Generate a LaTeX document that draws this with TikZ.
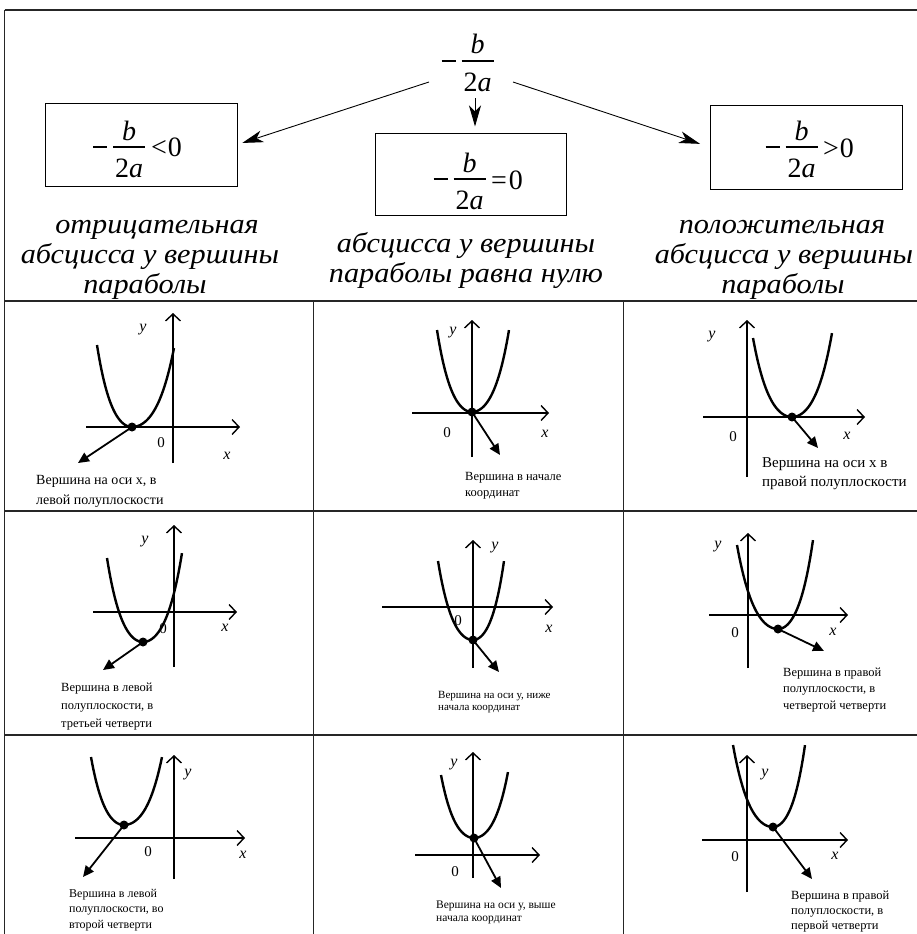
\documentclass[tikz,border=0pt]{standalone}
\usepackage{fontspec}
\setmainfont{Liberation Serif}
\newfontfamily\capfont[FakeStretch=1.08]{Liberation Serif}
\usetikzlibrary{arrows.meta}
\tikzset{
  gridline/.style={line width=1.3pt, draw=black!85},
  fbox/.style={draw, line width=1pt, inner sep=0},
  mth/.style={inner sep=0, font=\fontsize{28}{30}\selectfont},
  barline/.style={line width=1.1pt},
  toparrow/.style={line width=0.9pt, -{Stealth[length=21pt,width=12pt,inset=6pt]}},
  axis/.style={line width=1.4pt, -{Straight Barb[length=7pt,width=15pt]}},
  curve/.style={line width=2.4pt},
  varrow/.style={line width=1.8pt, -{Triangle[length=11pt,width=10pt]}},
  dot/.style={circle, fill, inner sep=0, minimum size=9pt},
  ax/.style={inner sep=0, font=\fontsize{16}{16}\selectfont\itshape},
  zero/.style={inner sep=0, font=\fontsize{15}{15}\selectfont},
  headcap/.style={inner sep=0, anchor=base, font=\capfont\fontsize{28}{30}\selectfont\itshape},
  note/.style args={#1/#2}{inner sep=0, anchor=base west, font=\fontsize{#1}{#2}\selectfont},
}
% fraction -b/2a with bar centre (#2,#3)
\newcommand\fracpart[3]{%
  \node[mth, anchor=base] (#1b) at (#2,#3-7) {\textit{b}};
  \node[mth, anchor=base] (#1d) at (#2,#3+30) {2\textit{a}};
  \draw[barline] (#2-16,#3) -- (#2+16,#3);
  \draw[barline] (#2-36,#3) -- (#2-22,#3);
}
% parabola: vertex (#1,#2), left top (#3,#4), right top (#5,#6)
\newcommand\parab[6]{%
  \draw[curve] plot[domain=-1:1, samples=61, smooth]
    ({#1+((\x<0)?(#1-#3):(#5-#1))*\x},
     {#2+((\x<0)?(#4-#2):(#6-#2))*(0.65*\x*\x+0.35*\x*\x*\x*\x)});
}
\begin{document}
\begin{tikzpicture}[x=1pt, y=-1pt]
\useasboundingbox (0,0) rectangle (917,934);

% frame and grid
\draw[gridline] (4.5,10) -- (917,10);
\draw[gridline, line width=1.6pt] (4.5,10) -- (4.5,934);
\draw[gridline] (4.5,301) -- (917,301);
\draw[gridline] (4.5,511) -- (917,511);
\draw[gridline] (4.5,735) -- (917,735);
\draw[gridline] (313.5,301) -- (313.5,934);
\draw[gridline] (623.5,301) -- (623.5,934);

% top formula
\fracpart{t}{477.5}{61}
\coordinate (sl) at (429,82);
\coordinate (sm) at (475,98);
\coordinate (sr) at (513,82);

% boxes
\node[fbox, minimum width=192pt, minimum height=83pt] (box1) at (141,144.5) {};
\node[fbox, minimum width=191pt, minimum height=82pt] (box2) at (470.5,174) {};
\node[fbox, minimum width=192pt, minimum height=84pt] (box3) at (806,147) {};

\fracpart{l}{129}{147}
\node[mth, anchor=base west] (lrel) at (151,156) {<\kern1pt 0};
\fracpart{m}{469.5}{179}
\node[mth, anchor=base west] (mrel) at (491,189) {=\kern2pt 0};
\fracpart{r}{801.5}{147}
\node[mth, anchor=base west] (rrel) at (823,157) {>\kern1pt 0};

\draw[toparrow, shorten >=5pt] (sl) -- (box1.east);
\draw[toparrow, shorten >=6pt] (sm) -- (sm |- box2.north);
\draw[toparrow, shorten >=10pt] (sr) -- (box3.west);

% captions
\node[headcap] (c11) at (157,233) {отрицательная};
\node[headcap] (c12) at (150,263) {абсцисса у вершины};
\node[headcap] (c13) at (145,293) {параболы};
\node[headcap] (c21) at (466,252) {абсцисса у вершины};
\node[headcap] (c22) at (466,282) {параболы равна нулю};
\node[headcap] (c31) at (782,233) {положительная};
\node[headcap] (c32) at (784,263) {абсцисса у вершины};
\node[headcap] (c33) at (783,293) {параболы};

% ---- cell 1
\draw[axis] (86,427) -- (240,427);
\draw[axis] (173,463) -- (173,313);
\parab{132}{427}{97}{345}{174}{348}
\node[dot] (v1) at (132,427) {};
\coordinate (e1) at (78,463);
\draw[varrow] (v1.center) -- (e1);
\node[ax] (y1) at (143,330) {y};
\node[zero] (o1) at (161,443) {0};
\node[ax] (x1) at (227,456) {x};
\node[note=14/20] (n1) at (36,484) {\begin{tabular}[t]{@{}l@{}}Вершина на оси х, в\\левой полуплоскости\end{tabular}};

% ---- cell 2
\draw[axis] (412,413) -- (549,413);
\draw[axis] (472,457) -- (472,320);
\parab{472}{412}{437}{330}{509}{330}
\node[dot] (v2) at (472,412) {};
\coordinate (e2) at (500,455);
\draw[varrow] (v2.center) -- (e2);
\node[ax] (y2) at (453,333) {y};
\node[zero] (o2) at (447,433) {0};
\node[ax] (x2) at (545,434) {x};
\node[note=12.5/16] (n2) at (465,480) {\begin{tabular}[t]{@{}l@{}}Вершина в начале\\координат\end{tabular}};

% ---- cell 3
\draw[axis] (703,417) -- (865,417);
\draw[axis] (747,477) -- (747,320);
\parab{792}{417}{753}{338}{832}{333}
\node[dot] (v3) at (792,417) {};
\coordinate (e3) at (818,448);
\draw[varrow] (v3.center) -- (e3);
\node[ax] (y3) at (712,337) {y};
\node[zero] (o3) at (733,437) {0};
\node[ax] (x3) at (847,436) {x};
\node[note=15/19] (n3) at (762,467) {\begin{tabular}[t]{@{}l@{}}Вершина на оси х в\\правой полуплоскости\end{tabular}};

% ---- cell 4
\draw[axis] (93,612) -- (237,612);
\draw[axis] (174,667) -- (174,525);
\parab{143}{642}{107}{558}{182}{553}
\node[dot] (v4) at (143,642) {};
\coordinate (e4) at (103,670);
\draw[varrow] (v4.center) -- (e4);
\node[ax] (y4) at (145,542) {y};
\node[zero] (o4) at (163,629) {0};
\node[ax] (x4) at (225,628) {x};
\node[note=12.5/18] (n4) at (61,691) {\begin{tabular}[t]{@{}l@{}}Вершина в левой\\полуплоскости, в\\третьей четверти\end{tabular}};

% ---- cell 5
\draw[axis] (382,607) -- (553,607);
\draw[axis] (473,668) -- (473,540);
\parab{473}{640}{438}{561}{504}{561}
\node[dot] (v5) at (473,640) {};
\coordinate (e5) at (499,672);
\draw[varrow] (v5.center) -- (e5);
\node[ax] (y5) at (495,548) {y};
\node[zero] (o5) at (458,621) {0};
\node[ax] (x5) at (549,629) {x};
\node[note=11/12] (n5) at (438,698) {\begin{tabular}[t]{@{}l@{}}Вершина на оси у, ниже\\начала координат\end{tabular}};

% ---- cell 6
\draw[axis] (709,615) -- (848,615);
\draw[axis] (748,668) -- (748,533);
\parab{778}{629}{737}{545}{813}{540}
\node[dot] (v6) at (778,629) {};
\coordinate (e6) at (824,651);
\draw[varrow] (v6.center) -- (e6);
\node[ax] (y6) at (718,547) {y};
\node[zero] (o6) at (735,633) {0};
\node[ax] (x6) at (833,632) {x};
\node[note=12.5/16.5] (n6) at (783,676) {\begin{tabular}[t]{@{}l@{}}Вершина в правой\\полуплоскости, в\\четвертой четверти\end{tabular}};

% ---- cell 7
\draw[axis] (75,838) -- (245,838);
\draw[axis] (174,879) -- (174,755);
\parab{124}{825}{91}{757}{162}{757}
\node[dot] (v7) at (124,825) {};
\coordinate (e7) at (83,877);
\draw[varrow] (v7.center) -- (e7);
\node[ax] (y7) at (188,775) {y};
\node[zero] (o7) at (148,852) {0};
\node[ax] (x7) at (243,855) {x};
\node[note=12/15.5] (n7) at (69,897) {\begin{tabular}[t]{@{}l@{}}Вершина в левой\\полуплоскости, во\\второй четверти\end{tabular}};

% ---- cell 8
\draw[axis] (415,855) -- (540,855);
\draw[axis] (473,878) -- (473,752);
\parab{474}{838}{441}{775}{508}{772}
\node[dot] (v8) at (474,838) {};
\coordinate (e8) at (501,888);
\draw[varrow] (v8.center) -- (e8);
\node[ax] (y8) at (454,765) {y};
\node[zero] (o8) at (455,872) {0};
\node[note=11.5/13] (n8) at (436,908) {\begin{tabular}[t]{@{}l@{}}Вершина на оси у, выше\\начала координат\end{tabular}};

% ---- cell 9
\draw[axis] (702,840) -- (848,840);
\draw[axis] (747,892) -- (747,755);
\parab{773}{827}{733}{745}{805}{745}
\node[dot] (v9) at (773,827) {};
\coordinate (e9) at (812,879);
\draw[varrow] (v9.center) -- (e9);
\node[ax] (y9) at (765,775) {y};
\node[zero] (o9) at (735,857) {0};
\node[ax] (x9) at (835,856) {x};
\node[note=12.5/15] (n9) at (791,899) {\begin{tabular}[t]{@{}l@{}}Вершина в правой\\полуплоскости, в\\первой четверти\end{tabular}};
\end{tikzpicture}
\end{document}
